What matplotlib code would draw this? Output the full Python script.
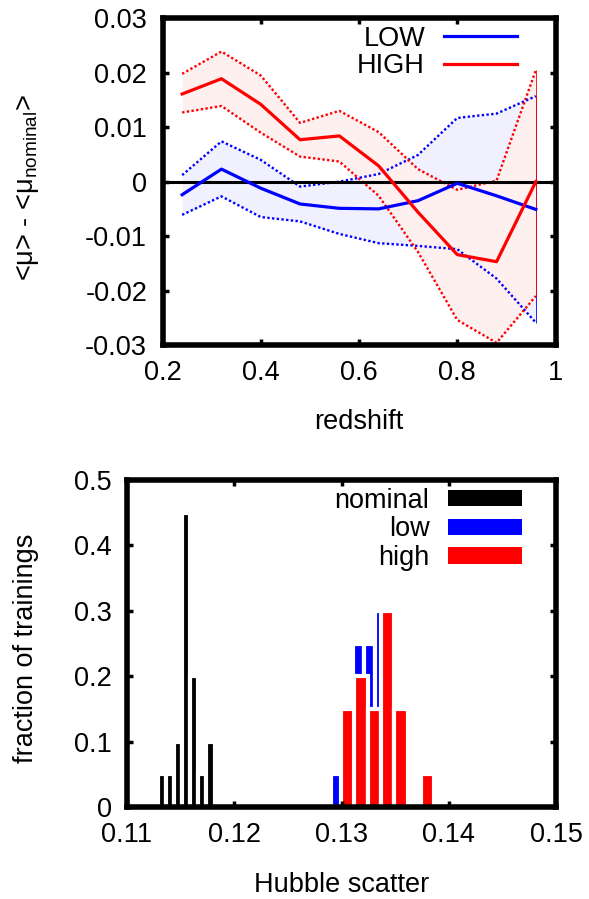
#!/usr/bin/env python3
"""Hubble residual offsets vs redshift and Hubble scatter histograms."""

import matplotlib

matplotlib.use("Agg")
import matplotlib.pyplot as plt
import numpy as np
from matplotlib.lines import Line2D
from matplotlib.patches import Patch
from matplotlib.ticker import FuncFormatter

plt.rcParams["font.family"] = ["Liberation Sans", "DejaVu Sans"]
plt.rcParams["mathtext.fontset"] = "custom"
plt.rcParams["mathtext.rm"] = "Liberation Sans"
plt.rcParams["mathtext.it"] = "Liberation Sans:italic"
plt.rcParams["axes.unicode_minus"] = False

FS = 19.5

# top panel: <mu> - <mu_nominal> per redshift bin
redshift = [0.24, 0.32, 0.40, 0.48, 0.56, 0.64, 0.72, 0.80, 0.88, 0.96]
low_mean = [-0.0024, 0.0023, -0.0012, -0.0041, -0.0049, -0.0050, -0.0035, -0.0003, -0.0026, -0.0051]
low_upper = [0.0012, 0.0074, 0.0040, -0.0009, 0.0000, 0.0014, 0.0049, 0.0117, 0.0125, 0.0157]
low_lower = [-0.0061, -0.0027, -0.0065, -0.0073, -0.0096, -0.0113, -0.0118, -0.0124, -0.0178, -0.0259]
high_mean = [0.0161, 0.0189, 0.0142, 0.0077, 0.0084, 0.0029, -0.0056, -0.0134, -0.0147, 0.0000]
high_upper = [0.0198, 0.0239, 0.0195, 0.0108, 0.0130, 0.0091, 0.0023, -0.0015, 0.0002, 0.0205]
high_lower = [0.0127, 0.0139, 0.0090, 0.0046, 0.0037, -0.0026, -0.0129, -0.0254, -0.0296, -0.0210]

# bottom panel: histograms of Hubble scatter
nominal_bins = [0.11326, 0.11401, 0.11477, 0.11552, 0.11628, 0.11703, 0.11779]
nominal_frac = [0.05, 0.05, 0.10, 0.45, 0.20, 0.05, 0.10]
low_bins = [0.12951, 0.13054, 0.13157, 0.13260, 0.13363, 0.13466]
low_frac = [0.05, 0.10, 0.25, 0.25, 0.30, 0.05]
high_bins = [0.13060, 0.13183, 0.13307, 0.13431, 0.13556, 0.13680, 0.13803]
high_frac = [0.15, 0.20, 0.15, 0.30, 0.15, 0.00, 0.05]

BLUE = "#0000ff"
RED = "#ff0000"


def _fmt(v, _pos):
    return f"{round(v, 6):g}"


def _style(ax):
    for sp in ax.spines.values():
        sp.set_linewidth(4)
    ax.tick_params(direction="in", length=4, width=2.5, top=True, right=True,
                   labelsize=FS, pad=11)
    ax.xaxis.set_major_formatter(FuncFormatter(_fmt))
    ax.yaxis.set_major_formatter(FuncFormatter(_fmt))


fig = plt.figure(figsize=(5.89, 8.99), dpi=100)
W, H = 589, 899

# ---- top panel
ax1 = fig.add_axes([162.5 / W, 1 - 345 / H, 393 / W, (345 - 18.3) / H])
z = np.array(redshift)
ax1.fill_between(z, low_lower, low_upper, color="#f0f0ff", lw=0)
ax1.fill_between(z, high_lower, high_upper, color="#fff0f0", lw=0)
dot = (0, (1, 1))
ax1.plot(z, low_upper, color=BLUE, ls=dot, lw=1.7)
ax1.plot(z, low_lower, color=BLUE, ls=dot, lw=1.7)
ax1.plot(z, high_upper, color=RED, ls=dot, lw=1.7)
ax1.plot(z, high_lower, color=RED, ls=dot, lw=1.7)
ax1.vlines(z[-1], low_lower[-1], low_upper[-1], color=BLUE, lw=0.6)
ax1.vlines(z[-1], high_lower[-1], high_upper[-1], color=RED, lw=0.6)
ax1.axhline(0, color="black", lw=2.2)
ax1.plot(z, low_mean, color=BLUE, lw=2.3)
ax1.plot(z, high_mean, color=RED, lw=2.3)
ax1.set_xlim(0.2, 1.0)
ax1.set_ylim(-0.03, 0.03)
ax1.set_xticks([0.2, 0.4, 0.6, 0.8, 1.0])
ax1.set_yticks([-0.03, -0.02, -0.01, 0, 0.01, 0.02, 0.03])
_style(ax1)
ax1.set_xlabel("redshift", fontsize=FS, labelpad=16)
fig.text(28 / W, 1 - 188 / H, r"<μ> - <μ$_{\rm nominal}$>", rotation=90,
         ha="center", va="center", fontsize=FS)
handles = [Line2D([], [], color=BLUE, lw=2.3), Line2D([], [], color=RED, lw=2.3)]
ax1.legend(handles, ["LOW", "HIGH"], loc="upper right", frameon=False,
           fontsize=FS, markerfirst=False, handlelength=2.7, handletextpad=0.7,
           labelspacing=0.05, borderaxespad=0.0, bbox_to_anchor=(0.93, 1.01))

# ---- bottom panel
ax2 = fig.add_axes([127 / W, 1 - 807 / H, 429 / W, 327 / H])
for bins, frac, col in [(low_bins, low_frac, BLUE), (high_bins, high_frac, RED),
                        (nominal_bins, nominal_frac, "black")]:
    width = np.diff(bins).mean()
    ax2.bar(bins, frac, width=width, color=col, edgecolor="white", linewidth=3.0)
ax2.set_xlim(0.11, 0.15)
ax2.set_ylim(0, 0.5)
ax2.set_xticks([0.11, 0.12, 0.13, 0.14, 0.15])
ax2.set_yticks([0, 0.1, 0.2, 0.3, 0.4, 0.5])
_style(ax2)
ax2.set_xlabel("Hubble scatter", fontsize=FS, labelpad=17)
fig.text(26 / W, 1 - 648 / H, "fraction of trainings", rotation=90,
         ha="center", va="center", fontsize=FS)
handles = [Patch(facecolor="black"), Patch(facecolor=BLUE), Patch(facecolor=RED)]
ax2.legend(handles, ["nominal", "low", "high"], loc="upper right", frameon=False,
           fontsize=FS, markerfirst=False, handlelength=2.7, handleheight=0.55,
           handletextpad=0.7, labelspacing=0.1, borderaxespad=0.0,
           bbox_to_anchor=(0.945, 1.01))

fig.savefig("out.png", dpi=100)
plt.close(fig)
